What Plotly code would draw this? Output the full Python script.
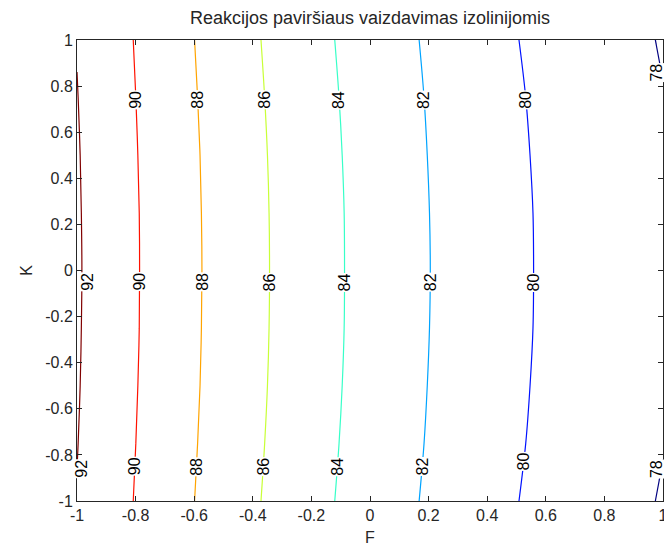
import plotly.graph_objects as go

# Factor levels (coded units)
F_vals = [-1.0, -0.75, -0.5, -0.25, 0.0, 0.25, 0.5, 0.75, 1.0]
K_vals = [-1.0, -0.75, -0.5, -0.25, 0.0, 0.25, 0.5, 0.75, 1.0]

# Response values on the (K, F) grid: one row per K level, one column per F level
Z_rows = [
    [91.95, 89.41, 87.08, 84.97, 83.10, 81.46, 80.04, 78.86, 77.90],  # K = -1
    [92.04, 89.50, 87.18, 85.08, 83.21, 81.57, 80.15, 78.96, 78.04],  # K = -0.75
    [92.11, 89.57, 87.26, 85.16, 83.29, 81.64, 80.22, 79.03, 78.13],  # K = -0.5
    [92.15, 89.62, 87.30, 85.21, 83.34, 81.69, 80.27, 79.07, 78.19],  # K = -0.25
    [92.17, 89.63, 87.32, 85.22, 83.35, 81.71, 80.28, 79.08, 78.21],  # K = 0
    [92.15, 89.62, 87.30, 85.21, 83.34, 81.69, 80.27, 79.07, 78.19],  # K = 0.25
    [92.11, 89.57, 87.26, 85.16, 83.29, 81.64, 80.22, 79.03, 78.13],  # K = 0.5
    [92.04, 89.50, 87.18, 85.08, 83.21, 81.57, 80.15, 78.96, 78.04],  # K = 0.75
    [91.95, 89.41, 87.08, 84.97, 83.10, 81.46, 80.04, 78.86, 77.90],  # K = 1
]

# Contour levels and the K positions at which each level is labelled
levels = [78, 80, 82, 84, 86, 88, 90, 92]
label_K = {
    78: [0.86, -0.86],
    80: [0.74, -0.05, -0.83],
    82: [0.74, -0.05, -0.85],
    84: [0.74, -0.05, -0.85],
    86: [0.74, -0.05, -0.85],
    88: [0.74, -0.05, -0.85],
    90: [0.74, -0.05, -0.85],
    92: [-0.05, -0.86],
}

tick_vals = [-1, -0.8, -0.6, -0.4, -0.2, 0, 0.2, 0.4, 0.6, 0.8, 1]
tick_text = ["-1", "-0.8", "-0.6", "-0.4", "-0.2", "0", "0.2", "0.4", "0.6", "0.8", "1"]

FONT = "Liberation Sans, Arial, sans-serif"
INK = "#262626"

# MATLAB-style jet colour map
jet = [
    [0.0, "#000080"],
    [0.125, "#0000ff"],
    [0.375, "#00ffff"],
    [0.625, "#ffff00"],
    [0.875, "#ff0000"],
    [1.0, "#800000"],
]


def level_crossing(level, k):
    """F where the linearly interpolated surface reaches `level` along the row at K=k."""
    for i in range(len(K_vals) - 1):
        if K_vals[i] <= k <= K_vals[i + 1]:
            t = (k - K_vals[i]) / (K_vals[i + 1] - K_vals[i])
            row = [(1 - t) * a + t * b for a, b in zip(Z_rows[i], Z_rows[i + 1])]
            break
    for j in range(len(F_vals) - 1):
        z0, z1 = row[j], row[j + 1]
        if (z0 - level) * (z1 - level) <= 0 and z0 != z1:
            return F_vals[j] + (level - z0) / (z1 - z0) * (F_vals[j + 1] - F_vals[j])
    return None


fig = go.Figure(
    go.Contour(
        x=F_vals,
        y=K_vals,
        z=Z_rows,
        zmin=min(levels),
        zmax=max(levels),
        colorscale=jet,
        showscale=False,
        contours=dict(
            start=min(levels),
            end=max(levels),
            size=2,
            coloring="lines",
            showlabels=False,
        ),
        line=dict(width=1.2),
        hoverinfo="skip",
    )
)

# Inline level labels, rotated along the near-vertical isolines;
# labels at the plot edges are nudged inwards so they stay readable
edge_shift = {min(levels): -5, max(levels): 5}
for lev in levels:
    for k in label_K[lev]:
        f = level_crossing(lev, k)
        if f is None:
            continue
        fig.add_annotation(
            x=f,
            y=k,
            xref="x",
            yref="y",
            text=str(lev),
            showarrow=False,
            textangle=-90,
            bgcolor="white",
            borderpad=0,
            xshift=edge_shift.get(lev, 0),
            font=dict(family=FONT, size=16, color="black"),
        )

axis_common = dict(
    range=[-1, 1],
    tickvals=tick_vals,
    ticktext=tick_text,
    ticks="inside",
    ticklen=5,
    tickwidth=1,
    tickcolor=INK,
    showline=True,
    linecolor=INK,
    linewidth=1,
    mirror="ticks",
    showgrid=False,
    zeroline=False,
    automargin=False,
    ticklabeloverflow="allow",
    tickfont=dict(family=FONT, size=16, color=INK),
)

fig.update_layout(
    width=664,
    height=546,
    margin=dict(l=77, r=1, t=40, b=45, autoexpand=False),
    paper_bgcolor="white",
    plot_bgcolor="white",
    title=dict(
        text="Reakcijos paviršiaus vaizdavimas izolinijomis",
        x=0.5,
        xref="paper",
        y=1 - 18 / 546,
        yanchor="middle",
        font=dict(family=FONT, size=18, color=INK),
    ),
    xaxis=dict(
        axis_common,
        title=dict(text="F", standoff=11, font=dict(family=FONT, size=16, color=INK)),
    ),
    yaxis=dict(
        axis_common,
        title=dict(text="K", standoff=8, font=dict(family=FONT, size=16, color=INK)),
    ),
)

fig.write_html("out.html")
